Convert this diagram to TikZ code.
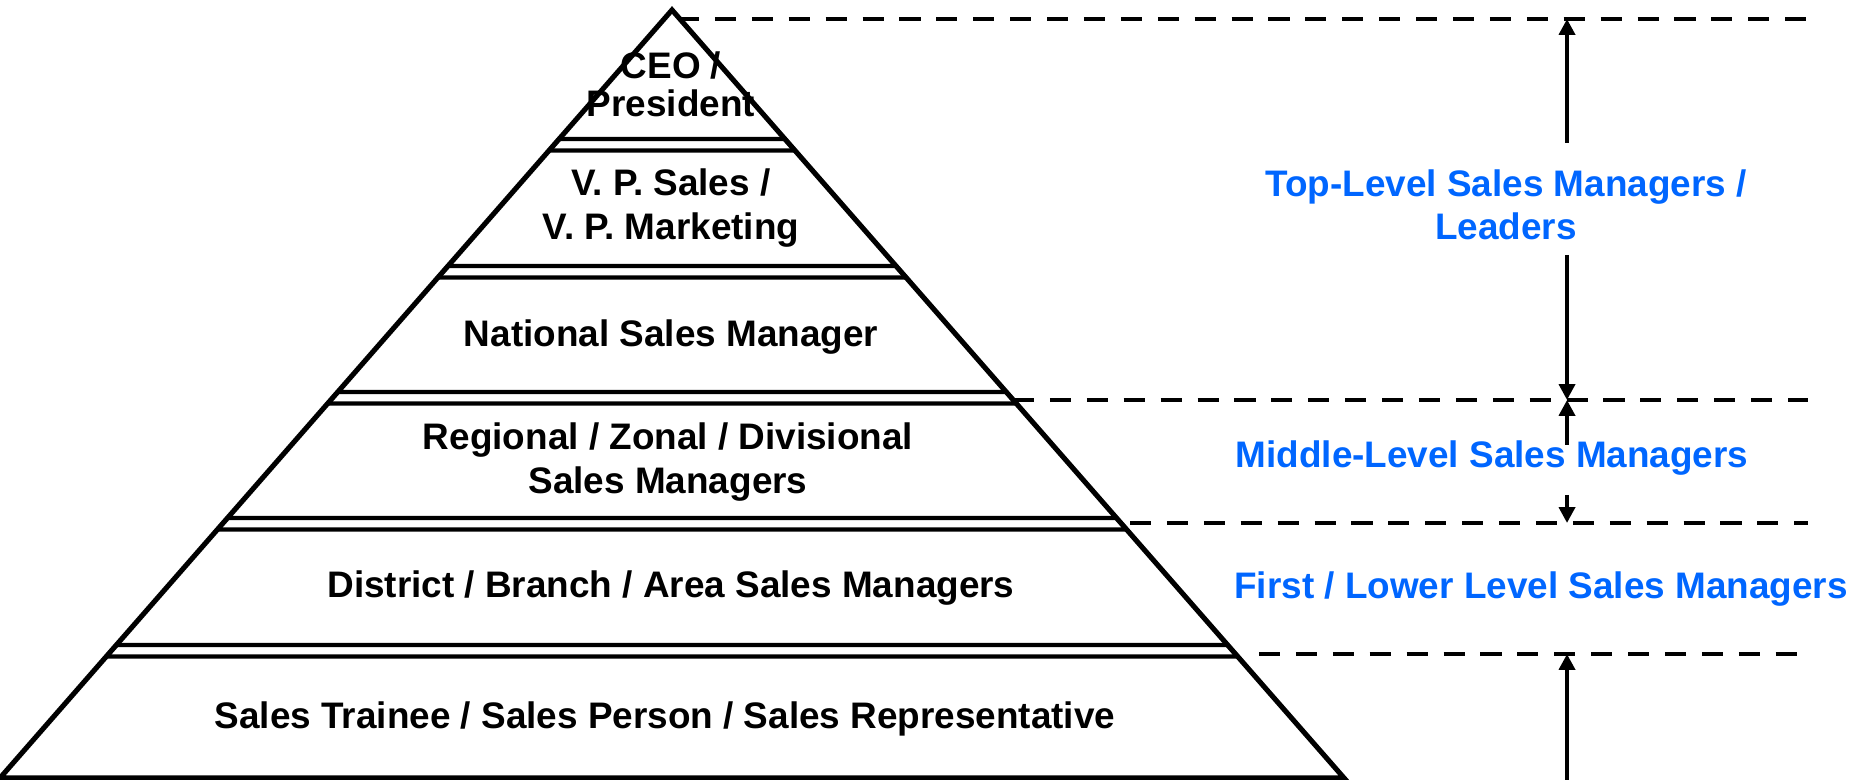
\documentclass[tikz,border=0pt]{standalone}
\usepackage{fontspec}
\setmainfont{Liberation Sans}
\usetikzlibrary{arrows.meta}
\definecolor{levelblue}{RGB}{0,102,255}

\begin{document}
\begin{tikzpicture}[
    rank/.style={font=\bfseries\fontsize{10.5}{12.3}\selectfont, align=center, inner sep=0pt},
    tier/.style={rank, text=levelblue},
    edge/.style={line width=1.45pt, line join=miter},
    band/.style={line width=1.2pt, line join=miter},
    sep/.style={line width=1.4pt, dash pattern=on 6pt off 4.5pt},
    span/.style={line width=1.15pt, -{Triangle[length=4.5pt,width=4.5pt]}}
]
    \useasboundingbox (0,0) rectangle (18.66,7.80);

    \draw [edge] (0,0.02) -- (6.72,7.70) -- (13.44,0.02) -- cycle;

    \draw [band] (5.591,6.41) -- (7.849,6.41) -- (7.949,6.295) -- (5.491,6.295) -- cycle;
    \draw [band] (4.480,5.14) -- (8.960,5.14) -- (9.061,5.025) -- (4.379,5.025) -- cycle;
    \draw [band] (3.378,3.88) -- (10.063,3.88) -- (10.163,3.765) -- (3.277,3.765) -- cycle;
    \draw [band] (2.275,2.62) -- (11.165,2.62) -- (11.266,2.505) -- (2.174,2.505) -- cycle;
    \draw [band] (1.164,1.35) -- (12.276,1.35) -- (12.377,1.235) -- (1.063,1.235) -- cycle;

    \node [rank, font=\bfseries\fontsize{10.5}{10.8}\selectfont] (ceo) at (6.71,6.96) {CEO /\\President};
    \node [rank] (vp) at (6.71,5.72) {V. P. Sales /\\V. P. Marketing};
    \node [rank] (national) at (6.71,4.43) {National Sales Manager};
    \node [rank] (regional) at (6.68,3.18) {Regional / Zonal / Divisional\\Sales Managers};
    \node [rank] (district) at (6.71,1.92) {District / Branch / Area Sales Managers};
    \node [rank] (trainee) at (6.65,0.61) {Sales Trainee / Sales Person / Sales Representative};

    \coordinate (l1) at (18.08,7.61);
    \coordinate (l2) at (18.08,3.80);
    \coordinate (l3) at (18.08,2.57);
    \coordinate (l4) at (18.08,1.26);
    \draw [sep] (6.78,7.61) -- (l1);
    \draw [sep] (10.13,3.80) -- (l2);
    \draw [sep] (11.30,2.57) -- (l3);
    \draw [sep] (12.59,1.26) -- (l4);

    \node [tier] (top) at (15.06,5.75) {Top-Level Sales Managers /\\Leaders};
    \node [tier] (middle) at (14.92,3.22) {Middle-Level Sales Managers};
    \node [tier] (first) at (15.41,1.91) {First / Lower Level Sales Managers};

    \coordinate (a1) at (15.67,6.37);
    \coordinate (a2) at (15.67,5.25);
    \coordinate (a3) at (15.67,3.35);
    \coordinate (a4) at (15.67,2.85);
    \coordinate (a5) at (15.67,0);
    \draw [span] (a1) -- (a1 |- l1);
    \draw [span] (a2) -- (a2 |- l2);
    \draw [span] (a3) -- (a3 |- l2);
    \draw [span] (a4) -- (a4 |- l3);
    \draw [span] (a5) -- (a5 |- l4);

\end{tikzpicture}
\end{document}
